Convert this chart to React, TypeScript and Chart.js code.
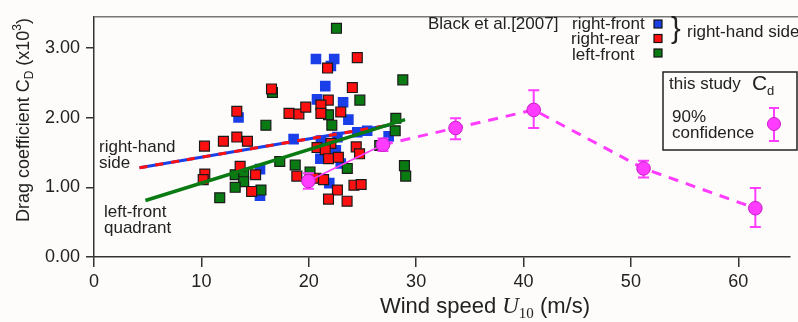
import React, { useEffect, useRef } from 'react';
import { Chart, registerables } from 'chart.js';

Chart.register(...registerables);

// ---------- data ----------
const xTicks = [0, 10, 20, 30, 40, 50, 60];
const yTicks = [0, 1, 2, 3];

// Black et al. [2007] – right-front (blue)
const rightFrontX = [13.46, 20.67, 22.37, 22.06, 21.54, 20.77, 23.2, 23.69, 18.59, 21.13, 24.52, 25.44, 27.44, 21.08, 22.52, 15.46, 15.46, 21.91, 22.98, 22.67];
const rightFrontY = [2.0, 2.84, 2.84, 2.74, 2.45, 2.26, 2.22, 1.97, 1.69, 1.67, 1.79, 1.81, 1.73, 1.41, 1.53, 1.26, 0.88, 1.06, 1.34, 1.72];

// right-rear (red)
const rightRearX = [16.53, 13.3, 18.16, 19.08, 19.72, 10.29, 12.05, 13.3, 14.29, 24.52, 21.75, 24.06, 21.82, 21.13, 21.13, 22.98, 20.77, 22.06, 24.42, 21.54, 21.84, 22.76, 24.73, 13.61, 15.05, 14.68, 10.32, 10.17, 18.89, 20.67, 21.38, 24.21, 24.88, 22.67, 21.84, 23.57];
const rightRearY = [2.41, 2.09, 2.06, 2.05, 2.15, 1.59, 1.66, 1.72, 1.66, 2.86, 2.71, 2.43, 2.25, 2.18, 2.06, 2.08, 1.57, 1.63, 1.58, 1.54, 1.41, 1.43, 1.48, 1.3, 1.18, 0.94, 1.19, 1.11, 1.16, 1.13, 1.11, 1.03, 1.04, 0.96, 0.83, 0.8];

// left-front (green)
const leftFrontX = [16.62, 16.01, 22.58, 28.76, 24.76, 21.84, 22.15, 28.11, 28.05, 26.61, 23.59, 28.91, 29.03, 13.15, 13.94, 13.94, 13.15, 15.55, 11.71, 17.3, 18.74, 20.12];
const leftFrontY = [2.36, 1.89, 3.28, 2.54, 2.25, 2.04, 1.89, 1.99, 1.81, 1.6, 1.27, 1.31, 1.16, 1.18, 1.2, 1.08, 1.0, 0.96, 0.85, 1.37, 1.32, 1.22];

// fitted lines
const rhsFitX = [4.24, 27.46];
const rhsFitY = [1.28, 1.89];
const lfFitX = [4.79, 28.97];
const lfFitY = [0.81, 1.97];

// this study
const studyX = [19.97, 26.91, 33.67, 40.95, 51.18, 61.59];
const studyCd = [1.09, 1.61, 1.85, 2.11, 1.27, 0.7];
const studyLow = [0.98, 1.52, 1.69, 1.85, 1.14, 0.43];
const studyHigh = [1.2, 1.7, 1.99, 2.39, 1.38, 0.99];

// ---------- helpers ----------
const zip = (xs: number[], ys: number[]) => xs.map((x, i) => ({ x, y: ys[i] }));
const SANS = '"Liberation Sans", Arial, sans-serif';
const SERIF = '"Liberation Serif", "DejaVu Serif", serif';
const TXT = '#222';
const BLUE = '#1a3ee8';
const RED = '#ff1010';
const GREEN = '#0a7a12';
const PINK = '#ff3cff';

const decor = {
  id: 'decor',
  beforeDraw(chart: any) {
    const { ctx, width, height } = chart;
    ctx.save();
    ctx.fillStyle = '#fdfcfb';
    ctx.fillRect(0, 0, width, height);
    ctx.restore();
  },
  beforeDatasetDraw(chart: any, args: any) {
    const ds = chart.data.datasets[args.index];
    if (ds.label !== 'study') return;
    const { ctx } = chart;
    const xs = chart.scales.x;
    const ys = chart.scales.y;
    ctx.save();
    ctx.strokeStyle = PINK;
    ctx.lineWidth = 2;
    for (let i = 0; i < studyX.length; i++) {
      const px = xs.getPixelForValue(studyX[i]);
      const lo = ys.getPixelForValue(studyLow[i]);
      const hi = ys.getPixelForValue(studyHigh[i]);
      ctx.beginPath();
      ctx.moveTo(px, lo);
      ctx.lineTo(px, hi);
      ctx.moveTo(px - 5.5, lo);
      ctx.lineTo(px + 5.5, lo);
      ctx.moveTo(px - 5.5, hi);
      ctx.lineTo(px + 5.5, hi);
      ctx.stroke();
    }
    ctx.restore();
  },
  afterDraw(chart: any) {
    const { ctx, chartArea, width } = chart;
    ctx.save();
    // top frame line
    ctx.strokeStyle = '#777';
    ctx.lineWidth = 1.5;
    ctx.beginPath();
    ctx.moveTo(chartArea.left, chartArea.top);
    ctx.lineTo(width, chartArea.top);
    ctx.stroke();

    ctx.fillStyle = TXT;
    ctx.textBaseline = 'middle';
    ctx.textAlign = 'left';
    ctx.font = `17px ${SANS}`;
    ctx.fillText('Black et al.[2007]', 428, 24);
    ctx.fillText('right-front', 572, 24);
    ctx.fillText('right-rear', 571, 39);
    ctx.fillText('left-front', 572, 55);
    ctx.fillText('right-hand side', 687, 32);
    ctx.fillText('right-hand', 99, 147);
    ctx.fillText('side', 99, 163);
    ctx.fillText('left-front', 104, 212);
    ctx.fillText('quadrant', 104, 228);

    // legend squares
    const sq = [[BLUE, 24], [RED, 38.5], [GREEN, 53]] as [string, number][];
    for (const [c, y] of sq) {
      ctx.fillStyle = c;
      ctx.fillRect(654, y - 4, 8, 8);
      ctx.strokeStyle = '#111';
      ctx.lineWidth = 1.2;
      ctx.strokeRect(654, y - 4, 8, 8);
    }
    // brace
    ctx.fillStyle = TXT;
    ctx.textBaseline = 'alphabetic';
    ctx.font = `29px ${SANS}`;
    ctx.fillText('}', 671, 38);

    // study legend box
    ctx.strokeStyle = '#222';
    ctx.lineWidth = 1.5;
    ctx.fillStyle = '#fdfcfb';
    ctx.fillRect(663, 72, 134, 78);
    ctx.strokeRect(663, 72, 134, 78);
    ctx.fillStyle = TXT;
    ctx.textBaseline = 'middle';
    ctx.font = `17px ${SANS}`;
    ctx.fillText('this study', 669, 84);
    ctx.fillText('90%', 672, 117);
    ctx.fillText('confidence', 672, 133);
    ctx.font = `21px ${SANS}`;
    ctx.fillText('C', 752, 84);
    ctx.font = `13px ${SANS}`;
    ctx.fillText('d', 767, 91);
    // legend icon
    ctx.strokeStyle = PINK;
    ctx.lineWidth = 2;
    ctx.beginPath();
    ctx.moveTo(774, 108);
    ctx.lineTo(774, 141);
    ctx.moveTo(769, 108);
    ctx.lineTo(779, 108);
    ctx.moveTo(769, 141);
    ctx.lineTo(779, 141);
    ctx.stroke();
    ctx.beginPath();
    ctx.arc(774, 124, 6.5, 0, Math.PI * 2);
    ctx.fillStyle = PINK;
    ctx.fill();
    ctx.strokeStyle = '#c81ec8';
    ctx.lineWidth = 1;
    ctx.stroke();

    // x title
    ctx.fillStyle = TXT;
    ctx.textBaseline = 'alphabetic';
    const xParts: [string, string, number][] = [
      ['Wind speed ', `22px ${SANS}`, 0],
      ['U', `italic 23px ${SERIF}`, 0],
      ['10', `15px ${SERIF}`, 5],
      [' (m/s)', `22px ${SANS}`, 0],
    ];
    let tw = 0;
    for (const [t, f] of xParts) { ctx.font = f; tw += ctx.measureText(t).width; }
    let cx = 485 - tw / 2;
    for (const [t, f, dy] of xParts) {
      ctx.font = f;
      ctx.fillText(t, cx, 313 + dy);
      cx += ctx.measureText(t).width;
    }

    // y title
    ctx.save();
    ctx.translate(29, 120);
    ctx.rotate(-Math.PI / 2);
    const yParts: [string, string, number][] = [
      ['Drag coefficient C', `18px ${SANS}`, 0],
      ['D', `12px ${SANS}`, 4],
      [' (x10', `18px ${SANS}`, 0],
      ['3', `12px ${SANS}`, -8],
      [')', `18px ${SANS}`, 0],
    ];
    tw = 0;
    for (const [t, f] of yParts) { ctx.font = f; tw += ctx.measureText(t).width; }
    cx = -tw / 2;
    for (const [t, f, dy] of yParts) {
      ctx.font = f;
      ctx.fillText(t, cx, dy);
      cx += ctx.measureText(t).width;
    }
    ctx.restore();

    ctx.restore();
  },
};

export default function App() {
  const ref = useRef<HTMLCanvasElement | null>(null);
  useEffect(() => {
    if (!ref.current) return;
    const chart = new Chart(ref.current, {
      type: 'scatter',
      data: {
        datasets: [
          {
            label: 'study',
            data: zip(studyX, studyCd),
            showLine: false,
            pointStyle: 'circle',
            pointRadius: 6.8,
            backgroundColor: PINK,
            borderColor: '#c81ec8',
            borderWidth: 1,
            order: 0,
          },
          {
            label: 'studyFit',
            data: zip(studyX.slice(0, 2), studyCd.slice(0, 2)),
            showLine: true,
            borderColor: PINK,
            borderWidth: 1.6,
            pointRadius: 0,
            order: 1,
          },
          {
            label: 'studyDash',
            data: zip(studyX.slice(1), studyCd.slice(1)),
            showLine: true,
            borderColor: PINK,
            borderWidth: 3,
            borderDash: [10, 8],
            pointRadius: 0,
            order: 1,
          },
          {
            label: 'lfFit',
            data: zip(lfFitX, lfFitY),
            showLine: true,
            borderColor: GREEN,
            borderWidth: 3.5,
            pointRadius: 0,
            order: 2,
          },
          {
            label: 'rhsFitRed',
            data: zip(rhsFitX, rhsFitY),
            showLine: true,
            borderColor: RED,
            borderWidth: 3,
            borderDash: [8, 8],
            pointRadius: 0,
            order: 3,
          },
          {
            label: 'rhsFitBlue',
            data: zip(rhsFitX, rhsFitY),
            showLine: true,
            borderColor: BLUE,
            borderWidth: 3,
            pointRadius: 0,
            order: 4,
          },
          {
            label: 'right-rear',
            data: zip(rightRearX, rightRearY),
            pointStyle: 'rect',
            pointRadius: 7,
            backgroundColor: RED,
            borderColor: '#1a1a1a',
            borderWidth: 1.2,
            order: 5,
          },
          {
            label: 'left-front',
            data: zip(leftFrontX, leftFrontY),
            pointStyle: 'rect',
            pointRadius: 7,
            backgroundColor: GREEN,
            borderColor: '#1a1a1a',
            borderWidth: 1.2,
            order: 6,
          },
          {
            label: 'right-front',
            data: zip(rightFrontX, rightFrontY),
            pointStyle: 'rect',
            pointRadius: 7.5,
            backgroundColor: BLUE,
            borderColor: BLUE,
            borderWidth: 0,
            order: 7,
          },
        ],
      },
      options: {
        animation: false,
        responsive: false,
        devicePixelRatio: 1,
        events: [],
        layout: { padding: { top: 9, right: 1, left: 0, bottom: 0 } },
        plugins: { legend: { display: false }, tooltip: { enabled: false } },
        scales: {
          x: {
            type: 'linear',
            min: 0,
            max: 64.8,
            afterBuildTicks: (s: any) => { s.ticks = xTicks.map((v) => ({ value: v })); },
            afterFit: (s: any) => { s.height = 65; },
            ticks: {
              font: { family: SANS, size: 18 },
              color: TXT,
              padding: 4,
              maxRotation: 0,
              autoSkip: false,
              callback: (v: any) => String(v),
            },
            grid: { drawOnChartArea: false, drawTicks: true, tickLength: 10, color: '#333', lineWidth: 1.5 },
            border: { display: true, color: '#333', width: 1.5 },
          },
          y: {
            type: 'linear',
            min: 0,
            max: 3.445,
            afterBuildTicks: (s: any) => { s.ticks = yTicks.map((v) => ({ value: v })); },
            afterFit: (s: any) => { s.width = 94; },
            ticks: {
              font: { family: SANS, size: 18 },
              color: TXT,
              padding: 6,
              autoSkip: false,
              callback: (v: any) => Number(v).toFixed(2),
            },
            grid: { drawOnChartArea: false, drawTicks: true, tickLength: 8, color: '#333', lineWidth: 1.5 },
            border: { display: true, color: '#333', width: 1.5 },
          },
        },
      },
      plugins: [decor],
    } as any);
    return () => chart.destroy();
  }, []);
  return (
    <div style={{ position: 'fixed', left: 0, top: 0, width: 798, height: 322 }}>
      <canvas ref={ref} width={798} height={322} style={{ width: 798, height: 322, display: 'block' }} />
    </div>
  );
}
